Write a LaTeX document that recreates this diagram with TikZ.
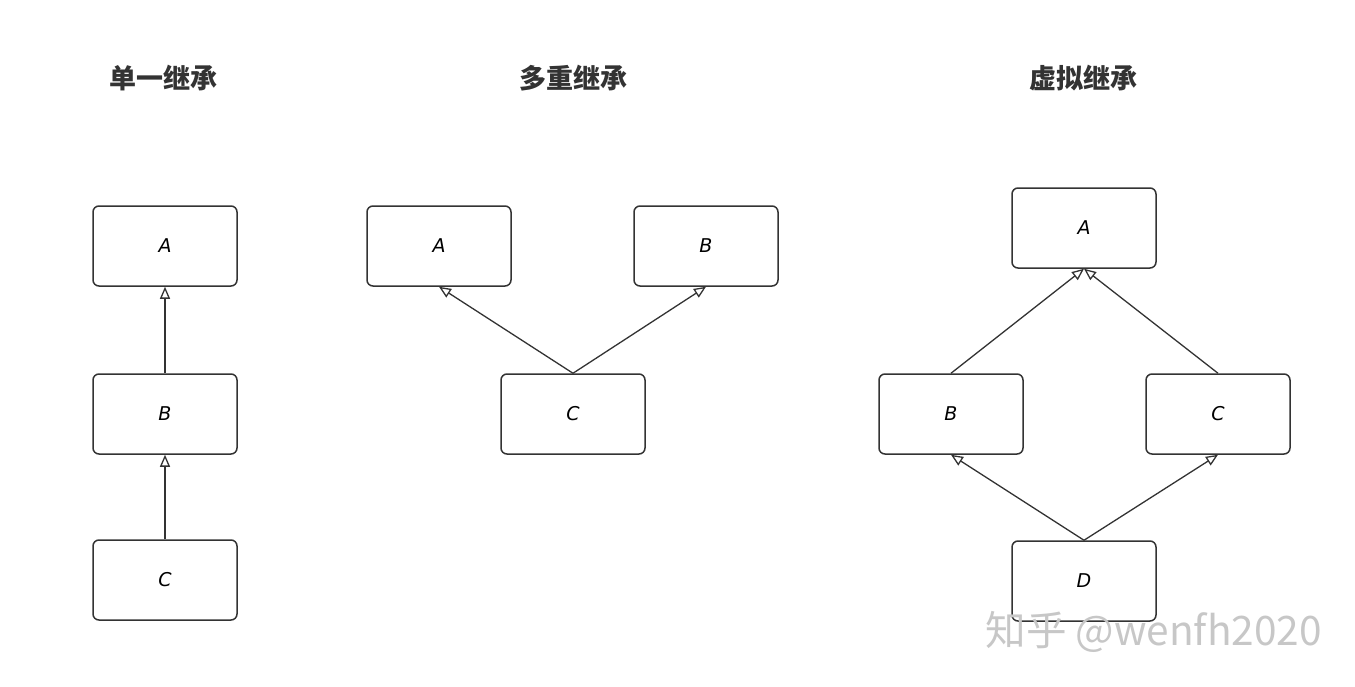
\documentclass[tikz,border=0pt]{standalone}
\usepackage{fontspec}
\setmainfont{DejaVu Sans}
\newfontfamily\cjk{Noto Sans CJK SC}
\usetikzlibrary{arrows.meta}

\begin{document}
\begin{tikzpicture}[x=0.5pt,y=-0.5pt,
        classe/.style={draw=black!80, line width=0.75pt, rounded corners=3pt,
            minimum width=72pt, minimum height=40pt, font=\itshape\fontsize{9.5}{11}\selectfont},
        herite/.style={draw=black!80, line width=0.65pt, -{Triangle[open,length=6pt,width=5pt]}},
        titre/.style={font=\cjk\bfseries\fontsize{13.5}{16}\selectfont, text=black!80}]
    \useasboundingbox (0,0) rectangle (1355,686);

    % titres
    \node[titre] (t1) at (163,78) {单一继承};
    \node[titre] (t2) at (573,78) {多重继承};
    \node[titre] (t3) at (1083,78) {虚拟继承};

    % classes
    \foreach \n/\x/\y/\t in
        {sA/165/246/A, sB/165/414/B, sC/165/580/C,
         mA/439/246/A, mB/706/246/B, mC/573/414/C,
         vA/1084/228/A, vB/951/414/B, vC/1218/414/C, vD/1084/581/D}
        {
            \node[classe] (\n) at (\x,\y) {\t};
        }

    % heritages
    \foreach \a/\b in {sB/sA, sC/sB, mC/mA, mC/mB, vB/vA, vC/vA, vD/vB, vD/vC}
        {
            \draw[herite] (\a.north) -- (\b.south);
        }

    \node[anchor=west, inner sep=0pt, text=black!22, font=\cjk\fontsize{20.3}{24}\selectfont] (wm) at (985,632) {知乎 @wenfh2020};
\end{tikzpicture}
\end{document}
